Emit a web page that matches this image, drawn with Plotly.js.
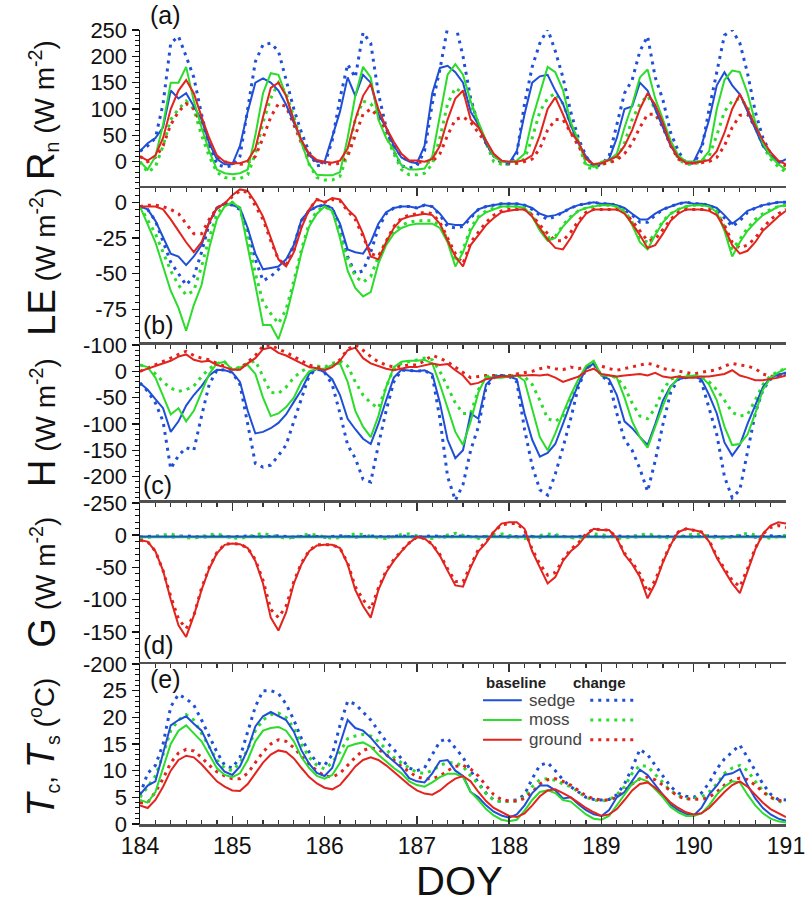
<!DOCTYPE html>
<html>
<head>
<meta charset="utf-8">
<script src="https://cdn.plot.ly/plotly-3.0.1.min.js"></script>
<style>
html,body{margin:0;padding:0;background:#fff;}
#chart{width:809px;height:918px;}
</style>
</head>
<body>
<div id="chart"></div>
<script>
// Time axis (DOY), 2-hour steps
const doy = [
184.000,184.083,184.167,184.250,184.333,184.417,184.500,184.583,184.667,184.750,184.833,184.917,
185.000,185.083,185.167,185.250,185.333,185.417,185.500,185.583,185.667,185.750,185.833,185.917,
186.000,186.083,186.167,186.250,186.333,186.417,186.500,186.583,186.667,186.750,186.833,186.917,
187.000,187.083,187.167,187.250,187.333,187.417,187.500,187.583,187.667,187.750,187.833,187.917,
188.000,188.083,188.167,188.250,188.333,188.417,188.500,188.583,188.667,188.750,188.833,188.917,
189.000,189.083,189.167,189.250,189.333,189.417,189.500,189.583,189.667,189.750,189.833,189.917,
190.000,190.083,190.167,190.250,190.333,190.417,190.500,190.583,190.667,190.750,190.833,190.917,
191.000];

// (a) Net radiation Rn (W m-2)
const rnSedgeBase = [
20,35,45,65,135,120,130,105,80,35,5,-5,
-5,30,95,150,158,150,135,108,75,40,12,0,
0,45,95,160,125,165,150,90,65,30,8,0,
-3,30,130,178,182,170,150,95,70,35,10,2,
-3,20,90,150,162,165,135,110,70,35,10,-8,
-3,5,45,100,105,150,135,100,65,30,8,0,
0,30,80,145,170,145,128,95,60,30,12,-3,
5];
const rnSedgeChange = [
20,30,45,110,225,238,200,160,90,30,-5,-10,
-8,10,100,190,222,225,210,155,100,55,18,-8,
-5,40,120,185,160,245,225,130,65,20,-8,-12,
-8,20,110,175,255,262,200,120,70,35,12,-3,
-5,15,110,180,225,252,210,160,95,45,10,-10,
-5,10,70,130,155,210,238,160,117,55,20,-3,
-3,20,100,170,240,250,225,168,95,45,15,0,
0];
const rnMossBase = [
0,-15,10,70,150,150,180,115,65,20,-15,-22,
-24,-22,-15,50,130,168,165,125,80,35,-5,-25,
-26,-26,-20,45,125,180,160,80,45,22,-7,-15,
-15,-13,10,90,165,185,165,115,75,40,10,0,
0,2,15,80,130,180,170,136,75,40,-5,-10,
0,3,15,65,108,160,175,120,80,40,12,0,
0,2,20,100,155,173,170,130,75,35,10,-5,
-15];
const rnMossChange = [
0,-20,-10,30,80,100,115,100,50,10,-20,-30,
-32,-32,-25,15,75,120,150,130,85,40,-5,-30,
-35,-35,-28,15,80,115,110,90,50,15,-15,-25,
-25,-22,-5,45,110,140,130,110,70,35,0,-5,
-5,-3,5,45,95,120,130,110,70,35,-10,-15,
-5,0,5,35,80,110,125,100,70,35,5,-5,
-5,0,10,50,95,115,120,105,65,30,5,-10,
-20];
const rnGroundBase = [
10,2,12,45,100,135,155,130,85,45,12,0,
-3,-3,2,25,85,140,150,125,78,40,15,3,
0,-2,2,25,80,125,148,100,65,38,15,2,
2,0,5,30,80,120,135,80,65,40,15,2,
0,0,3,12,50,100,122,90,55,38,5,-5,
-3,3,10,30,60,100,130,108,73,32,8,-2,
-2,0,3,20,55,100,128,100,68,40,18,2,
-5];
const rnGroundChange = [
10,0,8,30,70,95,110,100,70,35,8,0,
-3,-5,-3,10,45,85,110,105,70,35,10,0,
-3,-5,-3,10,50,90,100,85,60,30,10,0,
0,-2,0,15,50,80,85,75,55,35,12,0,
-3,-3,0,5,25,60,80,80,55,30,5,-5,
-5,-2,3,15,35,65,90,90,65,30,5,-3,
-3,-2,0,8,30,65,88,90,65,35,12,0,
-8];

// (b) Latent heat flux LE (W m-2)
const leSedgeBase = [
-3,-5,-13,-25,-36,-38,-44,-38,-30,-14,-4,-1,
-2,-4,-18,-36,-47,-46,-45,-40,-30,-12,-6,-3,
-2,-4,-15,-33,-35,-36,-28,-15,-7,-4,-3,-3,
-4,-2,-3,-8,-15,-16,-16,-10,-5,-3,-2,-1,
-1,-1,-2,-4,-8,-10,-9,-7,-4,-2,-1,0,
-1,-1,-2,-4,-8,-12,-12,-8,-5,-3,-1,0,
-1,-1,-2,-4,-9,-15,-11,-6,-4,-2,-1,0,
0];
const leSedgeChange = [
-3,-5,-13,-27,-42,-50,-58,-52,-35,-15,-4,-1,
-2,-5,-20,-40,-55,-52,-47,-42,-30,-13,-6,-3,
-2,-4,-17,-38,-50,-48,-35,-18,-8,-4,-3,-3,
-4,-2,-3,-9,-17,-18,-17,-11,-5,-3,-2,-1,
-1,-1,-2,-5,-9,-12,-10,-7,-4,-2,-1,0,
-1,-1,-2,-5,-9,-14,-14,-9,-5,-3,-1,0,
-1,-1,-2,-5,-11,-17,-13,-7,-4,-2,-1,0,
0];
const leMossBase = [
-3,-15,-28,-45,-62,-74,-90,-72,-58,-32,-12,-3,
0,-4,-30,-58,-86,-86,-96,-80,-58,-35,-17,-8,
-3,-6,-25,-48,-60,-66,-63,-43,-30,-22,-18,-16,
-15,-15,-15,-18,-28,-45,-35,-20,-11,-7,-5,-3,
-3,-3,-4,-10,-20,-27,-25,-17,-11,-6,-4,-3,
-2,-2,-3,-7,-16,-28,-33,-23,-14,-8,-5,-3,
-2,-2,-3,-7,-20,-38,-28,-20,-14,-9,-6,-3,
-2];
const leMossChange = [
-3,-12,-22,-35,-48,-58,-65,-62,-45,-25,-8,-2,
0,-4,-25,-50,-70,-78,-85,-75,-55,-33,-15,-6,
-3,-6,-22,-40,-52,-56,-52,-38,-27,-20,-16,-14,
-13,-13,-13,-16,-26,-42,-33,-18,-10,-6,-4,-3,
-3,-3,-4,-9,-18,-25,-24,-16,-10,-6,-4,-3,
-2,-2,-3,-6,-14,-25,-28,-22,-13,-8,-5,-3,
-2,-2,-3,-6,-17,-33,-26,-18,-12,-8,-5,-3,
-2];
const leGroundBase = [
-3,-3,-3,-5,-12,-20,-28,-35,-28,-14,-4,-1,
5,9,8,0,-10,-25,-40,-45,-35,-18,-5,2,
0,3,2,-5,-10,-22,-38,-40,-28,-18,-12,-10,
-9,-8,-9,-15,-27,-38,-45,-30,-23,-16,-11,-7,
-6,-5,-5,-10,-18,-26,-32,-33,-25,-15,-8,-5,
-5,-5,-5,-8,-15,-23,-32,-30,-22,-13,-8,-5,
-5,-5,-6,-9,-18,-30,-36,-34,-28,-20,-15,-10,
-6];
const leGroundChange = [
-3,-2,-2,-3,-5,-8,-15,-22,-22,-12,-4,-1,
4,8,7,-2,-12,-27,-40,-44,-34,-16,-5,2,
0,2,1,-6,-12,-24,-36,-38,-27,-17,-11,-9,
-8,-7,-8,-14,-25,-36,-43,-28,-21,-14,-9,-6,
-5,-5,-5,-9,-16,-22,-27,-27,-21,-13,-7,-5,
-5,-5,-5,-7,-13,-20,-27,-26,-19,-12,-7,-5,
-5,-5,-5,-8,-16,-28,-32,-30,-25,-18,-12,-8,
-5];

// (c) Sensible heat flux H (W m-2)
const hSedgeBase = [
-22,-35,-53,-70,-115,-95,-65,-45,-28,-8,3,2,
-2,-20,-75,-118,-115,-108,-98,-82,-58,-35,-5,5,
-2,-15,-45,-90,-110,-128,-138,-100,-55,-12,3,2,
0,2,-5,-60,-130,-165,-150,-80,-90,-25,-10,-8,
-10,-15,-80,-130,-162,-155,-138,-100,-60,-25,5,15,
-8,-15,-45,-95,-108,-125,-140,-100,-55,-28,-15,-12,
-10,-15,-45,-80,-135,-160,-140,-100,-65,-30,-12,-6,
-3];
const hSedgeChange = [
-22,-38,-60,-95,-185,-160,-145,-150,-85,-25,2,3,
-2,-25,-100,-175,-182,-178,-160,-140,-95,-50,-8,5,
-2,-25,-80,-140,-165,-205,-210,-140,-75,-20,2,2,
0,2,-8,-90,-200,-245,-215,-150,-105,-30,-12,-10,
-10,-20,-110,-180,-225,-235,-195,-145,-90,-30,5,15,
-8,-20,-80,-130,-150,-185,-228,-170,-100,-40,-15,-12,
-10,-20,-70,-120,-200,-240,-225,-150,-80,-35,-15,-8,
-3];
const hMossBase = [
12,8,-12,-48,-82,-70,-95,-75,-40,-5,15,18,
3,8,12,-5,-50,-85,-80,-68,-50,-20,0,5,
5,12,15,-20,-75,-105,-125,-85,-30,8,18,20,
20,22,15,-25,-70,-115,-140,-95,-40,-10,-12,-12,
-10,-8,-18,-70,-125,-150,-118,-80,-45,-15,10,20,
-8,-8,-12,-50,-95,-125,-145,-105,-65,-30,-12,-10,
-8,-10,-25,-55,-105,-140,-138,-120,-80,-35,-12,-2,
5];
const hMossChange = [
12,8,-5,-20,-32,-38,-35,-28,-10,5,15,18,
3,8,15,20,-10,-40,-42,-30,-12,0,8,10,
8,15,20,10,-20,-45,-60,-70,-30,5,15,18,
22,25,22,0,-30,-60,-80,-80,-35,-10,-8,-8,
-8,-8,-10,-25,-55,-90,-95,-85,-50,-20,5,15,
-8,-8,-12,-30,-60,-85,-90,-70,-35,-15,-10,-8,
-8,-10,-20,-35,-55,-78,-85,-82,-55,-25,-8,0,
5];
const hGroundBase = [
0,5,10,15,20,28,32,22,18,20,12,8,
3,3,15,25,42,45,35,30,22,15,8,6,
2,8,20,40,45,25,15,10,5,2,5,8,
8,12,15,12,14,2,-8,-25,-22,-15,-12,-10,
-10,-8,-8,-7,-8,-6,-12,-20,-15,-10,0,5,
-5,-8,-10,-8,-6,-5,-8,-3,-10,-12,-10,-12,
-12,-10,-10,-8,-5,2,-8,-12,-17,-17,-15,-12,
-8];
const hGroundChange = [
0,6,12,18,25,32,38,30,25,22,15,10,
3,5,18,30,48,50,42,36,28,20,12,8,
4,10,22,42,50,40,28,18,12,8,10,12,
12,20,30,25,18,8,-2,-12,-10,-8,-8,-8,
-8,-5,-3,0,5,8,5,3,8,5,8,10,
10,5,2,5,8,12,15,12,5,3,0,-2,
-5,-2,0,3,10,15,12,10,5,-5,-10,-8,
-5];

// (d) Ground heat flux G (W m-2)
const gSedgeBase = [
-2,-2,-2,-2,-2,-2,-2,-2,-2,-2,-2,-2,
-2,-2,-2,-2,-2,-2,-2,-2,-2,-2,-2,-2,
-2,-2,-2,-2,-2,-2,-2,-2,-2,-2,-2,-2,
-2,-2,-2,-2,-2,-2,-2,-2,-2,-2,-2,-2,
-2,-2,-2,-2,-2,-2,-2,-2,-2,-2,-2,-2,
-2,-2,-2,-2,-2,-2,-2,-2,-2,-2,-2,-2,
-2,-2,-2,-2,-2,-2,-2,-2,-2,-2,-2,-2,
-2];
const gSedgeChange = [
-3,-2,-1,-2,-3,-2,-1,-2,-3,-2,-1,-2,
-3,-2,-1,-2,-3,-2,-1,-2,-3,-2,-1,-2,
-3,-2,-1,-2,-3,-2,-1,-2,-3,-2,-1,-2,
-3,-2,-1,-2,-3,-2,-1,-2,-3,-2,-1,-2,
-3,-2,-1,-2,-3,-2,-1,-2,-3,-2,-1,-2,
-3,-2,-1,-2,-3,-2,-1,-2,-3,-2,-1,-2,
-3,-2,-1,-2,-3,-2,-1,-2,-3,-2,-1,-2,
-2];
const gMossBase = [
-3,-3,-3,-3,-3,-3,-3,-3,-3,-3,-3,-3,
-3,-3,-3,-3,-3,-3,-3,-3,-3,-3,-3,-3,
-3,-3,-3,-3,-3,-3,-3,-3,-3,-3,-3,-3,
-3,-3,-3,-3,-3,-3,-3,-3,-3,-3,-3,-3,
-3,-3,-3,-3,-3,-3,-3,-3,-3,-3,-3,-3,
-3,-3,-3,-3,-3,-3,-3,-3,-3,-3,-3,-3,
-3,-3,-3,-3,-3,-3,-3,-3,-3,-3,-3,-3,
-3];
const gMossChange = [
-5,-4,-2,0,2,-1,-4,-5,-2,1,2,-1,
-4,-5,-2,1,3,0,-3,-5,-3,0,2,0,
-3,-5,-4,-1,2,1,-2,-4,-5,-2,1,2,
-1,-4,-5,-2,1,3,0,-3,-5,-2,1,2,
0,-3,-5,-3,0,2,1,-2,-4,-5,-1,2,
1,-2,-4,-5,-2,1,2,0,-3,-5,-3,0,
2,1,-2,-4,-5,-2,1,3,0,-3,-5,-2,
0];
const gGroundBase = [
-8,-10,-25,-55,-100,-140,-158,-125,-85,-52,-28,-15,
-13,-14,-20,-40,-75,-128,-148,-120,-75,-45,-25,-16,
-15,-15,-20,-45,-85,-110,-128,-85,-58,-40,-25,-12,
-3,-5,-15,-32,-55,-78,-80,-50,-25,-12,5,18,
20,20,10,-25,-50,-75,-65,-40,-25,-15,0,10,
8,8,-5,-30,-45,-65,-98,-75,-42,-15,5,10,
8,5,-10,-35,-55,-75,-90,-55,-22,2,15,20,
18];
const gGroundChange = [
-8,-10,-25,-55,-95,-130,-145,-125,-82,-50,-27,-14,
-13,-14,-20,-38,-70,-115,-128,-110,-72,-43,-24,-15,
-15,-15,-20,-43,-80,-100,-115,-82,-55,-38,-24,-12,
-3,-5,-14,-30,-52,-72,-72,-48,-22,-10,5,16,
18,18,8,-22,-45,-62,-58,-38,-22,-12,2,10,
8,8,-4,-28,-42,-60,-88,-70,-40,-14,5,10,
8,5,-8,-33,-52,-70,-80,-52,-20,2,12,15,
12];

// (e) Canopy / surface temperature (degC)
const tSedgeBase = [
5.5,7.2,8,13,18.5,19.5,20.2,18.8,17.5,14.5,11.5,9.8,
9.2,10.8,14,18.3,20.2,21,20.2,19.5,17.3,13.8,11.3,9.6,
9,10.5,15,19.5,18,17.5,16.2,14.5,13,11.8,10.5,8.6,
8,7.8,9.5,11.8,12,10,9,6,5,3.5,2.3,1.6,
1.2,1.8,3.5,5.8,7.2,7.2,6.3,4.8,5,3.7,2.6,1.8,
1.5,2.6,5,6,8.2,10.2,9.2,7.3,5.5,3.6,2.6,1.9,
1.6,3,5.5,7.2,9.2,9.5,10.3,7.3,4.8,3,1.8,1,
0.6];
const tSedgeChange = [
5.5,9.5,11,15,22,24.3,23.5,22.3,19.5,16.5,13.5,11,
10.5,12.5,17.5,22,25,25,24.5,22.5,19.5,16,13.5,11.5,
11,13,18.5,23,22.5,21,19.5,17.5,15.5,14,12.2,10.5,
10,10.5,13,15.5,16,14.3,12.5,10,7.7,5.8,4.5,4.2,
4.3,4.5,5.5,8.5,11,11.5,10,8.3,7,6,5,4.6,
4.5,4.6,5.5,7.5,10.5,14,13,11,9,7,5.8,5.2,
5,5.8,7.7,10.3,12.2,13.5,14.8,12.5,10,7.5,5.6,4.6,
4.5];
const tMossBase = [
4.5,4,6,10.5,15,17.5,18.5,17,15.5,13,10.5,9.2,
8.8,9.5,12,15.5,17.5,18,18.2,17.5,15.5,12.5,10.5,9,
8.5,9.2,11.5,14.5,15,15.3,14.5,13,11.8,10.5,9.5,8,
7.3,7,7.8,8.8,9.4,9.4,8.8,6,4.5,2.8,1.6,0.8,
0.5,0.8,2.5,4.5,6,6.3,5.8,4.5,4.2,3,1.8,1,
0.8,1.5,3.5,5.5,7.5,8.5,8,6.5,5,3.2,2.2,1.5,
1.5,2,3.5,5.5,7,8,7.8,5.5,3.5,2,1,0.5,
0.3];
const tMossChange = [
5,7,9,13,17.5,19.5,20.5,19.5,17,14.5,12,10.5,
10,11.5,14,17.5,19.5,20.5,20.8,20,18,15,12.5,11,
10.3,11.5,13.5,16,16.5,16.8,16.5,15.5,14,12.5,11.5,10.5,
9.7,9.5,10,11,11.5,11.5,10.8,9,7.5,5.7,4.5,4.2,
4.2,4.3,5,7,8.3,8.5,8.2,7.5,7,6,5,4.5,
4.3,4.5,5.5,7,9.5,11,10.8,9.3,7.8,6.2,5.3,4.8,
4.8,5,6,7.5,9.5,10.5,11,10,8,6.2,5,4.3,
3.8];
const tGroundBase = [
3.5,3,4.5,7,10,12,12.8,12.5,11.2,9.5,8,7,
6.3,6.2,7.5,9.5,11.5,13,13.8,13.5,12.3,10.5,8.8,7.6,
6.8,6.5,7.3,9,10.8,12,12.5,12,11,9.8,8.5,7.3,
6.3,5.7,5.5,6.3,7.5,8.5,9,8,6,4.3,3,2.2,
1.5,1.3,2,3.5,5.2,6.3,6.5,5.8,5,4,3,2.2,
1.5,1.8,2.8,4.5,6.3,7.5,7.8,6.8,5.5,4,3,2.2,
1.8,2,3,4.5,6,7.3,8,7,5.5,4,2.8,2,
1.3];
const tGroundChange = [
4,4,6,8.5,11.5,13.3,14,13.7,12.5,11,9.8,9,
8.5,8.5,9.5,11.5,13.5,15,15.8,15.5,14.3,12.7,11.2,10,
9,8.8,9.5,11,12.5,13.8,14.3,14,13,12,10.8,9.8,
8.8,8.5,8.5,9,10,10.8,11,10.3,9,7.2,5.5,4.6,
4.3,4.3,4.8,6,7.5,8.3,8.5,8,7.3,6.3,5.3,4.7,
4.5,4.5,5,6.2,7.5,8.5,8.8,8.3,7.3,6.2,5.2,4.7,
4.6,4.6,5,6,7.3,8.2,8.6,8.3,7.3,6,5,4.5,
4];

// tick labels
const dayTicks = [184,185,186,187,188,189,190,191];
const rnTicks = [0,50,100,150,200,250];
const leTicks = [0,-25,-50,-75,-100];
const hTicks = [0,-50,-100,-150,-200,-250];
const gTicks = [0,-50,-100,-150,-200];
const tTicks = [0,5,10,15,20,25];

const BLUE = '#1f4fd6', GREEN = '#2bdc2b', RED = '#e3231d';
const DOT = '3px,5px';

const panels = [
  {ax:'', series:[rnSedgeChange,rnMossChange,rnGroundChange,rnSedgeBase,rnMossBase,rnGroundBase]},
  {ax:'2', series:[leSedgeChange,leMossChange,leGroundChange,leSedgeBase,leMossBase,leGroundBase]},
  {ax:'3', series:[hSedgeChange,hMossChange,hGroundChange,hSedgeBase,hMossBase,hGroundBase]},
  {ax:'4', series:[gSedgeChange,gMossChange,gGroundChange,gMossBase,gSedgeBase,gGroundBase]},
  {ax:'5', series:[tSedgeChange,tMossChange,tGroundChange,tSedgeBase,tMossBase,tGroundBase]}
];
const styles4 = [[BLUE,true],[GREEN,true],[RED,true],[GREEN,false],[BLUE,false],[RED,false]];
const stylesStd = [[BLUE,true],[GREEN,true],[RED,true],[BLUE,false],[GREEN,false],[RED,false]];

const traces = [];
panels.forEach((p,pi)=>{
  const st = pi===3 ? styles4 : stylesStd;
  p.series.forEach((ys,i)=>{
    const [c,dotted] = st[i];
    traces.push({
      type:'scatter', mode:'lines', x:doy, y:ys,
      xaxis:'x'+p.ax, yaxis:'y'+p.ax,
      line: dotted ? {color:c, width:3, dash:DOT} : {color:c, width:2},
      hoverinfo:'skip', showlegend:false, cliponaxis:true
    });
  });
});

const doms = [[0.8010,1],[0.6033,0.8010],[0.4043,0.6033],[0.2015,0.4043],[0,0.2015]];
const yranges = [[-50,250],[-100,10],[-250,50],[-200,50],[0,30]];
const ytv = [rnTicks,leTicks,hTicks,gTicks,tTicks];
const yminor = [10,5,10,10,1];
const FONT = 'Arial, "Liberation Sans", sans-serif';

const layout = {
  width:809, height:918,
  margin:{l:140, r:23, t:30, b:94},
  paper_bgcolor:'#fff', plot_bgcolor:'#fff',
  font:{family:FONT, color:'#111'},
  showlegend:false,
  annotations:[], shapes:[]
};

for (let i=0;i<5;i++){
  const s = i===0 ? '' : String(i+1);
  const ax = {
    domain:[0,1], anchor:'y'+s, range:[184,191],
    showline: i!==0, linecolor:'#505050', linewidth:2.5,
    ticks: i===0 ? '' : 'inside', ticklen:8, tickwidth:1.5, tickcolor:'#333',
    tickmode:'array', tickvals:dayTicks,
    minor: i===0 ? {ticks:''} : {tickmode:'linear', tick0:184, dtick:1/6, ticks:'inside', ticklen:4, tickwidth:1.2, tickcolor:'#333'},
    showticklabels: i===4,
    tickfont:{size:23, family:FONT, color:'#111'},
    showgrid:false, zeroline:false, fixedrange:true
  };
  if (i>=1 && i<=3) ax.side = 'top';
  if (i===4) ax.mirror = 'ticks';
  layout['xaxis'+s] = ax;
  layout['yaxis'+s] = {
    domain:doms[i], anchor:'x'+s, range:yranges[i],
    showline:true, linecolor:'#111', linewidth:1.5,
    ticks:'outside', ticklen:7, tickwidth:1.5, tickcolor:'#111',
    tickmode:'array', tickvals:ytv[i], ticktext:ytv[i].map(String),
    minor:{tickmode:'linear', tick0:0, dtick:yminor[i], ticks:'outside', ticklen:4, tickwidth:1, tickcolor:'#111'},
    tickfont:{size:22, family:FONT, color:'#111'},
    showgrid:false, zeroline:false, fixedrange:true
  };
}

// y-axis titles
const unit = ' (W m<sup>-2</sup>)';
const ytitles = [
  {t:'<span style="font-size:38px">R</span><sub>n</sub>'+unit, y:0.899},
  {t:'<span style="font-size:38px">LE</span>'+unit, y:0.708},
  {t:'<span style="font-size:38px">H</span>'+unit, y:0.506},
  {t:'<span style="font-size:38px">G</span>'+unit, y:0.305},
  {t:'<span style="font-size:38px"><i>T</i></span><sub>c</sub>, <span style="font-size:38px"><i>T</i></span><sub>s</sub> (<sup>o</sup>C)', y:0.097}
];
ytitles.forEach(o=>{
  layout.annotations.push({xref:'paper', yref:'paper', x:-0.152, y:o.y, text:o.t, textangle:-90,
    showarrow:false, xanchor:'center', yanchor:'middle', font:{size:28, family:FONT, color:'#111'}});
});

// panel letters
[['(a)',0.012,1.019],['(b)',0.002,0.628],['(c)',0.002,0.427],['(d)',0.002,0.225],['(e)',0.012,0.182]].forEach(a=>{
  layout.annotations.push({xref:'paper', yref:'paper', x:a[1], y:a[2], text:a[0], showarrow:false,
    xanchor:'left', yanchor:'middle', font:{size:25, family:FONT, color:'#111'}});
});

// DOY title
layout.annotations.push({xref:'paper', yref:'paper', x:0.495, y:-0.072, text:'DOY', showarrow:false,
  xanchor:'center', yanchor:'middle', font:{size:40, family:FONT, color:'#111'}});

// custom legend in panel (e)
const legNames = ['sedge','moss','ground'];
const legColors = [BLUE, GREEN, RED];
const legY = [0.156, 0.131, 0.106];
layout.annotations.push({xref:'paper', yref:'paper', x:0.582, y:0.178, text:'<b>baseline</b>', showarrow:false,
  xanchor:'center', yanchor:'middle', font:{size:15, family:FONT, color:'#222'}});
layout.annotations.push({xref:'paper', yref:'paper', x:0.712, y:0.178, text:'<b>change</b>', showarrow:false,
  xanchor:'center', yanchor:'middle', font:{size:15, family:FONT, color:'#222'}});
legNames.forEach((n,i)=>{
  layout.shapes.push({type:'line', xref:'paper', yref:'paper', x0:0.531, x1:0.591, y0:legY[i], y1:legY[i],
    line:{color:legColors[i], width:2}});
  layout.shapes.push({type:'line', xref:'paper', yref:'paper', x0:0.697, x1:0.766, y0:legY[i], y1:legY[i],
    line:{color:legColors[i], width:3, dash:DOT}});
  layout.annotations.push({xref:'paper', yref:'paper', x:0.599, y:legY[i], text:n, showarrow:false,
    xanchor:'left', yanchor:'middle', font:{size:17, family:FONT, color:'#444'}});
});

Plotly.newPlot('chart', traces, layout, {staticPlot:true, displayModeBar:false});
</script>
</body>
</html>
